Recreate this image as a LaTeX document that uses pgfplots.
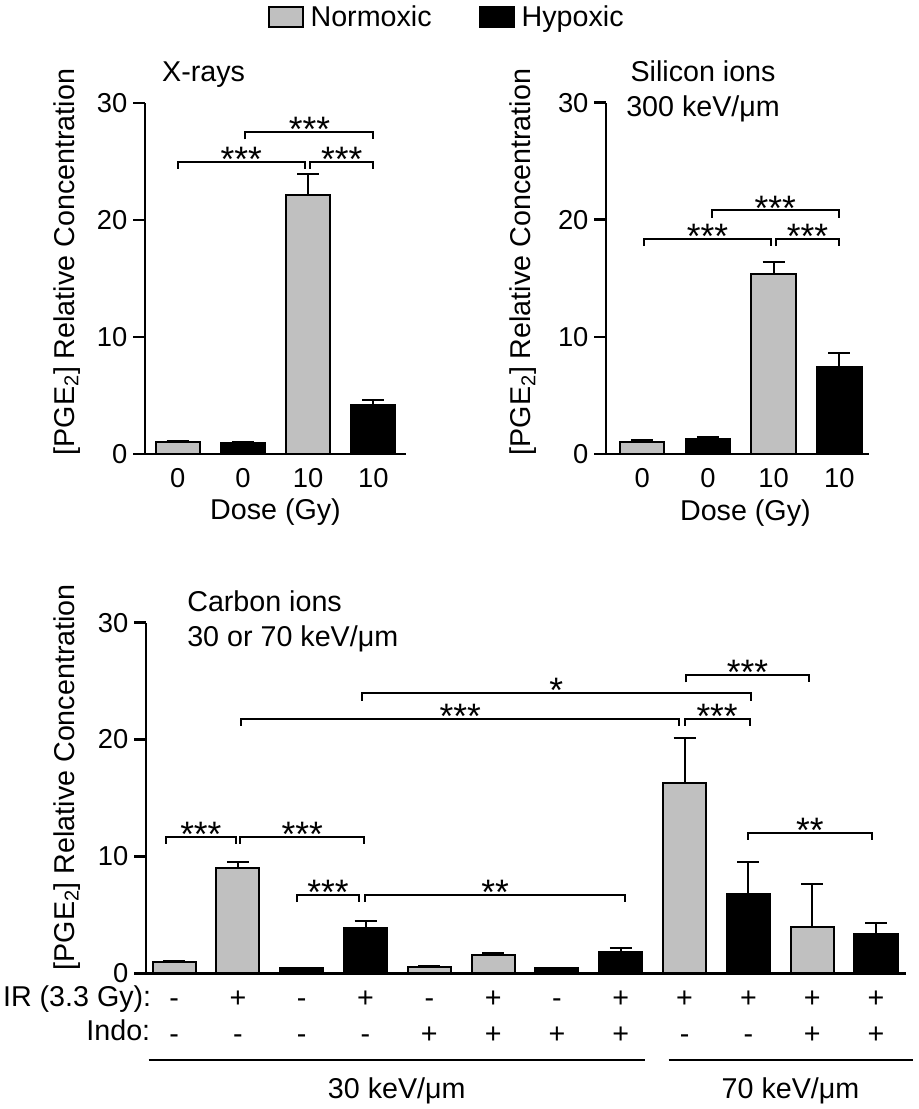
\documentclass[border=0pt]{standalone}
\usepackage{fontspec}
\setmainfont{Liberation Sans}
\usepackage{pgfplots}
\usepackage{pgfplotstable}
\pgfplotsset{compat=1.18}
\definecolor{barg}{RGB}{192,192,192}
\newcommand\labf{\fontsize{21.5}{25}\selectfont}
\newcommand\tickf{\fontsize{20.5}{24}\selectfont}
\newcommand\starf{\fontsize{26.5}{30}\selectfont}

% X-rays
\pgfplotstableread{
x y e
0 1.00 0.14
2 22.1 1.80
}\xrN
\pgfplotstableread{
x y e
1 0.90 0.09
3 4.21 0.37
}\xrH
% Silicon
\pgfplotstableread{
x y e
0 1.05 0.14
2 15.37 1.03
}\siN
\pgfplotstableread{
x y e
1 1.31 0.17
3 7.43 1.22
}\siH
% Carbon
\pgfplotstableread{
x y e
0 1.00 0.08
1 9.03 0.52
4 0.55 0.10
5 1.54 0.20
8 16.25 3.88
10 3.93 3.68
}\caN
\pgfplotstableread{
x y e
2 0.45 0.05
3 3.88 0.62
6 0.45 0.05
7 1.85 0.34
9 6.78 2.77
11 3.39 0.91
}\caH

\newcommand{\brk}[4]{%
 \draw[line width=1.5pt] ([yshift=-5.4pt]axis cs:#1,#3) -- (axis cs:#1,#3) -- (axis cs:#2,#3) -- ([yshift=-5.4pt]axis cs:#2,#3);
 \path (axis cs:#1,#3) -- (axis cs:#2,#3) node[midway, anchor=base, yshift=-7.2pt, font=\starf, inner sep=0pt] {#4};}

\pgfplotsset{
 pane/.style={
  scale only axis, ymin=0, ymax=30, ytick={0,10,20,30},
  axis x line=bottom, axis y line=left, axis line style={-, line width=2pt},
  tick align=outside, major tick length=9pt,
  ytick style={line width=2pt, black},
  xtick style={draw=none},
  /pgf/number format/assume math mode=true,
  yticklabel style={font=\tickf, anchor=east, inner sep=0pt, xshift=-4pt},
  label style={font=\labf},
  clip=false,
 },
 nbar/.style={ybar, bar shift=0pt, bar width=0.675, fill=barg, draw=black, line width=1.5pt,
   error bars/.cd, y dir=plus, y explicit, error mark=|,
   error bar style={line width=1.5pt, black},
   error mark options={line width=1.5pt, mark size=8.25pt, black}},
 hbar/.style={ybar, bar shift=0pt, bar width=0.675, fill=black, draw=black, line width=1.5pt,
   error bars/.cd, y dir=plus, y explicit, error mark=|,
   error bar style={line width=1.5pt, black},
   error mark options={line width=1.5pt, mark size=8.25pt, black}},
}

\begin{document}
\begin{tikzpicture}
\useasboundingbox (0,0) rectangle (688.5pt,-831.75pt);

% ---------- X-rays ----------
\begin{axis}[pane,
  at={(108.75pt,-340.5pt)}, anchor=south west,
  width=195.75pt, height=263.25pt,
  xmin=-0.5, xmax=3.5,
  xtick={0,1,2,3}, xticklabels={0,0,10,10},
  xticklabel style={font=\tickf, anchor=base, inner sep=0pt, yshift=-16.3pt},
  xlabel={Dose (Gy)},
  xlabel style={at={(axis description cs:0.5,-0.188)}, anchor=base},
  ylabel={[PGE\textsubscript{2}] Relative Concentration},
  ylabel style={at={(axis description cs:-0.272,-0.017)}, anchor=base west},
  legend style={at={(axis description cs:0.47,1.246)}, anchor=west, draw=none, fill=none,
    inner sep=0pt, legend columns=2, font=\labf,
    /tikz/every odd column/.append style={column sep=3pt},
    /tikz/every even column/.append style={column sep=33.5pt}},
  legend cell align=left,
]
\addlegendimage{legend image code/.code={\draw[fill=barg,draw=black,line width=1.5pt] (0pt,-7.5pt) rectangle (25.5pt,7.5pt);}}
\addlegendentry{Normoxic}
\addlegendimage{legend image code/.code={\draw[fill=black,draw=black,line width=1.5pt] (0pt,-7.5pt) rectangle (25.5pt,7.5pt);}}
\addlegendentry{Hypoxic}
\addplot[forget plot, nbar] table[x=x,y=y,y error=e]{\xrN};
\addplot[forget plot, hbar] table[x=x,y=y,y error=e]{\xrH};
\brk{0}{1.95}{25.0}{***}
\brk{2.03}{3}{25.0}{***}
\brk{1.04}{3}{27.5}{***}
\node[anchor=base west, font=\labf, inner sep=0pt] at (axis description cs:0.065,1.06) {X-rays};
\end{axis}

% ---------- Silicon ----------
\begin{axis}[pane,
  at={(454.5pt,-340.5pt)}, anchor=south west,
  width=197.25pt, height=263.5pt,
  xmin=-0.55, xmax=3.45,
  xtick={0,1,2,3}, xticklabels={0,0,10,10},
  xticklabel style={font=\tickf, anchor=base, inner sep=0pt, yshift=-16.3pt},
  xlabel={Dose (Gy)},
  xlabel style={at={(axis description cs:0.53,-0.188)}, anchor=base},
  ylabel={[PGE\textsubscript{2}] Relative Concentration},
  ylabel style={at={(axis description cs:-0.286,-0.017)}, anchor=base west},
]
\addplot[nbar] table[x=x,y=y,y error=e]{\siN};
\addplot[hbar] table[x=x,y=y,y error=e]{\siH};
\brk{0.03}{1.96}{18.36}{***}
\brk{2.04}{2.99}{18.36}{***}
\brk{1.06}{2.99}{20.8}{***}
\node[anchor=base, font=\labf, inner sep=0pt] at (axis description cs:0.369,1.06) {Silicon ions};
\node[anchor=base, font=\labf, inner sep=0pt] at (axis description cs:0.369,0.961) {300 keV/μm};
\end{axis}

% ---------- Carbon ----------
\begin{axis}[pane,
  at={(109.5pt,-730pt)}, anchor=south west,
  width=570pt, height=263pt,
  xmin=-0.44, xmax=11.47,
  xtick={0,...,11}, xticklabels={-,+,-,+,-,+,-,+,+,+,+,+},
  xticklabel style={font=\labf, anchor=base, inner sep=0pt, yshift=-16.5pt},
  extra x ticks={0,...,11},
  extra x tick labels={-,-,-,-,+,+,+,+,-,-,+,+},
  extra x tick style={xticklabel style={yshift=-35.75pt}, major tick length=0pt, tick style={draw=none}},
  ylabel={[PGE\textsubscript{2}] Relative Concentration},
  ylabel style={at={(axis description cs:-0.0947,-0.005)}, anchor=base west},
]
\addplot[nbar] table[x=x,y=y,y error=e]{\caN};
\addplot[hbar] table[x=x,y=y,y error=e]{\caH};
\brk{-0.13}{0.97}{11.69}{***}
\brk{1.04}{2.98}{11.69}{***}
\brk{1.93}{2.895}{6.7}{***}
\brk{2.99}{7.07}{6.7}{**}
\brk{1.056}{7.915}{21.8}{***}
\brk{8.0}{9.02}{21.8}{***}
\brk{2.94}{9.04}{23.95}{*}
\brk{8.02}{9.95}{25.5}{***}
\brk{9.0}{10.93}{12.03}{**}
\node[anchor=base west, font=\labf, inner sep=0pt] at (axis description cs:0.054,1.033) {Carbon ions};
\node[anchor=base west, font=\labf, inner sep=0pt] at (axis description cs:0.054,0.9315) {30 or 70 keV/μm};
\node[anchor=base east, font=\labf, inner sep=0pt] at (axis cs:-0.354,-2.857) {IR (3.3 Gy):};
\node[anchor=base east, font=\labf, inner sep=0pt] at (axis cs:-0.37,-5.78) {Indo:};
\draw[line width=1.5pt] (axis cs:-0.397,-7.42) -- (axis cs:7.373,-7.42);
\draw[line width=1.5pt] (axis cs:7.75,-7.42) -- (axis cs:11.578,-7.42);
\node[anchor=base, font=\labf, inner sep=0pt] at (axis cs:3.49,-10.69) {30 keV/μm};
\node[anchor=base, font=\labf, inner sep=0pt] at (axis cs:9.66,-10.69) {70 keV/μm};
\end{axis}
\end{tikzpicture}
\end{document}
